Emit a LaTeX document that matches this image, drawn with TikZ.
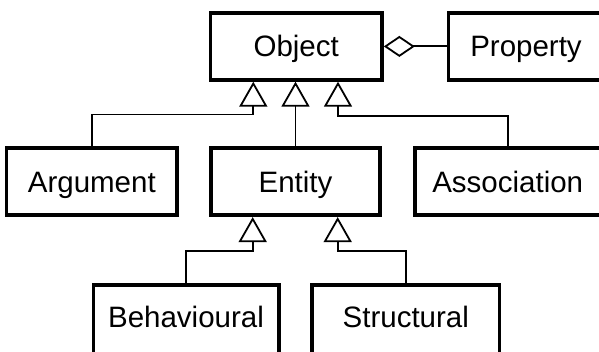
\documentclass[tikz,border=0pt]{standalone}
\usepackage{fontspec}
\setmainfont{Liberation Sans}
\usetikzlibrary{arrows.meta}
\begin{document}
\begin{tikzpicture}[x=1pt,y=-1pt,
  box/.style={draw, line width=3.6pt, minimum height=67pt, inner sep=0pt,
    font=\fontsize{29.5}{35}\selectfont, text height=21pt, text depth=0pt},
  lowbox/.style={box, minimum height=70pt, text depth=6pt},
  conn/.style={line width=1.8pt},
  inh/.style={conn, -{Triangle[length=25pt, width=28pt, fill=white]}},
  agg/.style={conn, -{Diamond[length=31pt, width=21pt, fill=white]}}]
\useasboundingbox (0,0) rectangle (599,352);
\node[box, minimum width=171.7pt] (obj) at (296.2,46.4) {Object};
\node[box, minimum width=155pt] (prop) at (526,46.4) {Property};
\node[box, minimum width=170.3pt] (arg) at (91.8,181.8) {Argument};
\node[box, minimum width=169pt] (ent) at (295.5,181.8) {Entity};
\node[box, minimum width=185.4pt] (assoc) at (507.7,181.8) {Association};
\node[lowbox, minimum width=185.4pt] (beh) at (186,320.3) {Behavioural};
\node[lowbox, minimum width=187.7pt] (str) at (405.8,320.3) {Structural};
\coordinate (ja) at (253.3,114.5);
\coordinate (jc) at (338,116);
\coordinate (jd) at (252.7,251);
\coordinate (je) at (337.7,251);
\draw[agg] (prop.west) -- (obj.east);
\draw[inh] (arg.north) |- (ja) -- (ja |- obj.south);
\draw[inh] (ent.north) -- (ent.north |- obj.south);
\draw[inh] (assoc.north) |- (jc) -- (jc |- obj.south);
\draw[inh] (beh.north) |- (jd) -- (jd |- ent.south);
\draw[inh] (str.north) |- (je) -- (je |- ent.south);
\end{tikzpicture}
\end{document}
